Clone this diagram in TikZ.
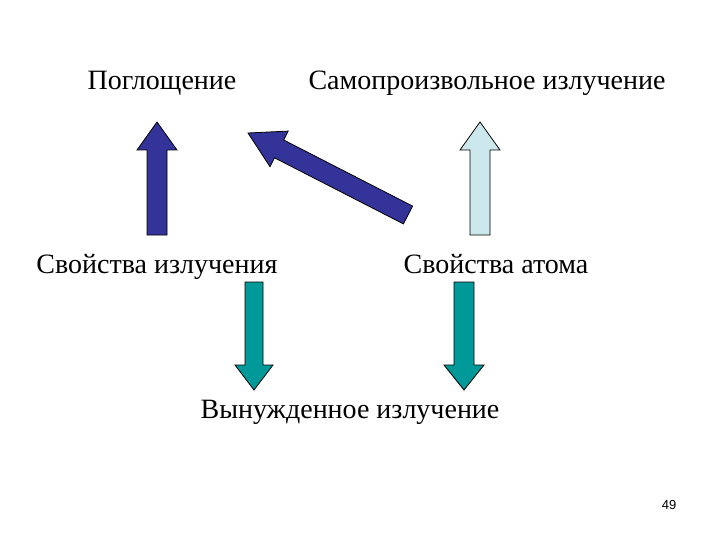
\documentclass[tikz,border=0pt]{standalone}
\usepackage{fontspec}
\setmainfont{Liberation Serif}
\newfontfamily\numfont{Liberation Sans}
\begin{document}
\begin{tikzpicture}[x=1pt,y=-1pt]
\tikzset{lbl/.style={font=\fontsize{28}{32}\selectfont,inner sep=0pt,anchor=base},
 arr/.style={draw=black,line width=0.8pt,line join=miter}}
\definecolor{dblue}{HTML}{333399}
\definecolor{lcyan}{HTML}{CCE8EC}
\definecolor{teal2}{HTML}{009999}
\useasboundingbox (0,0) rectangle (720,540);
\node[lbl] (p) at (162,90) {Поглощение};
\node[lbl] (s) at (487,90) {Самопроизвольное излучение};
\node[lbl] (si) at (157,273) {Свойства излучения};
\node[lbl] (sa) at (496,273) {Свойства атома};
\node[lbl] (v) at (350,418) {Вынужденное излучение};
\node[font=\numfont\fontsize{13}{15}\selectfont] (n) at (669,505) {49};
% up arrows
\draw[arr,fill=dblue] (147,235)--(147,150)--(137,150)--(157,122)--(177,150)--(167,150)--(167,235)--cycle;
\draw[arr,fill=lcyan] (470,235)--(470,150)--(460,150)--(480,122)--(500,150)--(490,150)--(490,235)--cycle;
% diagonal
\draw[arr,fill=dblue] (412.6,206.1)--(283.7,140.0)--(288.2,131.1)--(248,133)--(270.0,166.7)--(274.5,157.8)--(403.4,223.9)--cycle;
% down arrows
\draw[arr,fill=teal2] (245,282)--(245,365)--(235,365)--(254,390)--(273,365)--(263,365)--(263,282)--cycle;
\draw[arr,fill=teal2] (454,282)--(454,365)--(444,365)--(464,390)--(484,365)--(474,365)--(474,282)--cycle;
\end{tikzpicture}
\end{document}
